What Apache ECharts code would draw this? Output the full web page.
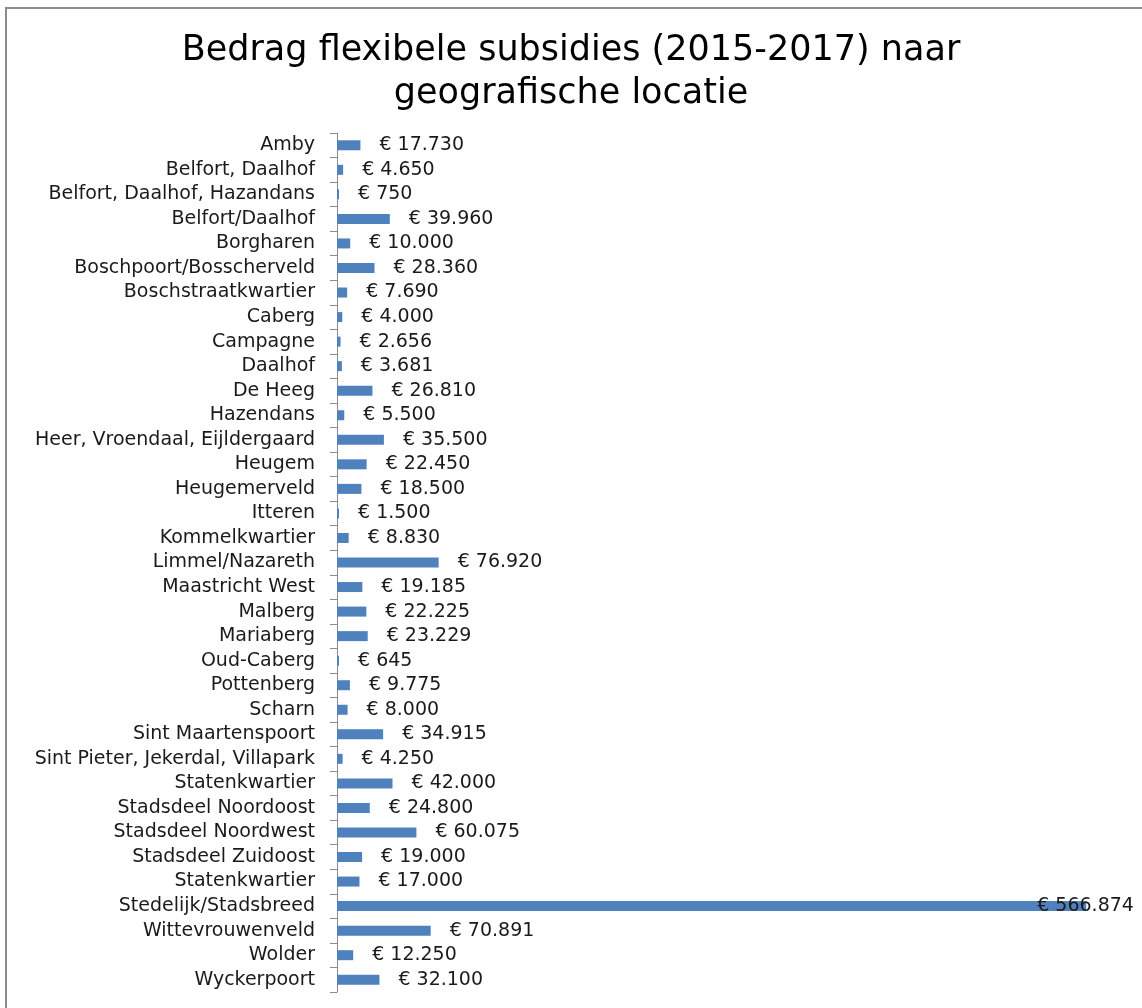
<!DOCTYPE html>
<html>
<head>
<meta charset="utf-8">
<script src="https://cdn.jsdelivr.net/npm/echarts@6/dist/echarts.min.js"></script>
<style>
  html, body { margin: 0; padding: 0; background: #fff; }
  #chart { width: 1142px; height: 1008px; }
</style>
</head>
<body>
<div id="chart"></div>
<script>
  // Wijken, van boven naar beneden
  const categories = [
    'Amby', 'Belfort, Daalhof', 'Belfort, Daalhof, Hazandans', 'Belfort/Daalhof',
    'Borgharen', 'Boschpoort/Bosscherveld', 'Boschstraatkwartier', 'Caberg',
    'Campagne', 'Daalhof', 'De Heeg', 'Hazendans', 'Heer, Vroendaal, Eijldergaard',
    'Heugem', 'Heugemerveld', 'Itteren', 'Kommelkwartier', 'Limmel/Nazareth',
    'Maastricht West', 'Malberg', 'Mariaberg', 'Oud-Caberg', 'Pottenberg', 'Scharn',
    'Sint Maartenspoort', 'Sint Pieter, Jekerdal, Villapark', 'Statenkwartier',
    'Stadsdeel Noordoost', 'Stadsdeel Noordwest', 'Stadsdeel Zuidoost',
    'Statenkwartier', 'Stedelijk/Stadsbreed', 'Wittevrouwenveld', 'Wolder', 'Wyckerpoort'
  ]
  const amounts = [
    17730, 4650, 750, 39960, 10000, 28360, 7690, 4000, 2656, 3681, 26810, 5500,
    35500, 22450, 18500, 1500, 8830, 76920, 19185, 22225, 23229, 645, 9775, 8000,
    34915, 4250, 42000, 24800, 60075, 19000, 17000, 566874, 70891, 12250, 32100
  ]

  const fmt = v => '€ ' + String(v).replace(/\B(?=(\d{3})+(?!\d))/g, '.')

  const chart = echarts.init(document.getElementById('chart'))

  let seriesData = []
  for (let i = 0; i < amounts.length; i++) {
    let item = { value: amounts[i] }
    if (amounts[i] > 500000) {
      // label past the plot edge, pulled back over the bar like in Excel
      item.label = { offset: [-68, 0] }
    }
    seriesData.push(item)
  }

  chart.setOption({
    animation: false,
    title: {
      text: 'Bedrag flexibele subsidies (2015-2017) naar\ngeografische locatie',
      left: 'center',
      top: 24,
      textStyle: {
        fontFamily: 'DejaVu Sans',
        fontWeight: 'normal',
        fontSize: 35,
        lineHeight: 43,
        color: '#000'
      }
    },
    graphic: [{
      type: 'rect',
      shape: { x: 6, y: 8, width: 1300, height: 1200 },
      style: { fill: 'none', stroke: '#8c8c8c', lineWidth: 2 },
      silent: true
    }],
    grid: {
      left: 337,
      right: 12,
      top: 133,
      bottom: 16
    },
    xAxis: {
      type: 'value',
      min: 0,
      max: 600000,
      show: false
    },
    yAxis: {
      type: 'category',
      inverse: true,
      data: categories,
      axisLine: { show: true, lineStyle: { color: '#8c8c8c', width: 1 } },
      axisTick: { show: true, length: 7, interval: 0, lineStyle: { color: '#8c8c8c', width: 1 } },
      axisLabel: {
        fontFamily: 'DejaVu Sans',
        fontSize: 19,
        color: '#1a1a1a',
        margin: 22,
        interval: 0
      }
    },
    series: [{
      type: 'bar',
      barWidth: 10,
      barMinHeight: 2,
      itemStyle: { color: '#4F81BD' },
      label: {
        show: true,
        position: 'right',
        distance: 19,
        fontFamily: 'DejaVu Sans',
        fontSize: 19,
        color: '#1a1a1a',
        formatter: p => fmt(p.value)
      },
      data: seriesData
    }]
  })
</script>
</body>
</html>
